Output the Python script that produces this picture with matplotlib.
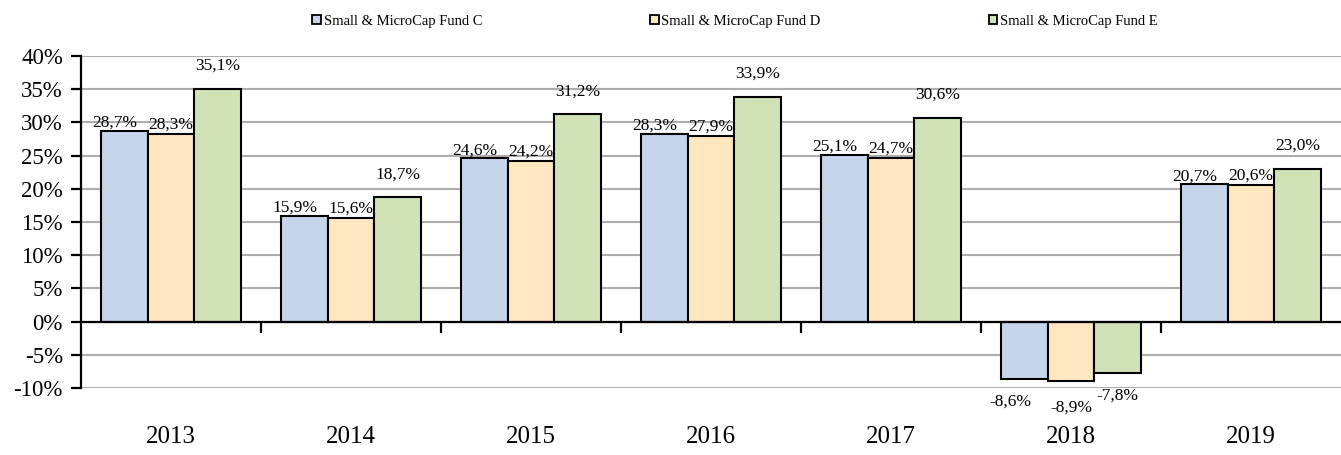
import matplotlib
matplotlib.use("Agg")
import matplotlib.pyplot as plt
from matplotlib.patches import Patch
import matplotlib.transforms as mtransforms

years = ["2013", "2014", "2015", "2016", "2017", "2018", "2019"]
series_names = ["Small & MicroCap Fund C", "Small & MicroCap Fund D", "Small & MicroCap Fund E"]
fund_c = [28.7, 15.9, 24.6, 28.3, 25.1, -8.6, 20.7]
fund_d = [28.3, 15.6, 24.2, 27.9, 24.7, -8.9, 20.6]
fund_e = [35.1, 18.7, 31.2, 33.9, 30.6, -7.8, 23.0]
yticks = [-10, -5, 0, 5, 10, 15, 20, 25, 30, 35, 40]

colors = ["#C6D5EB", "#FFE8C0", "#D1E3B6"]
# label offsets in points (dx, dy) per series, for positive / negative values
pos_off = [(-7, 0), (0, 1), (0, 11)]
neg_off = [(-10, -11), (0, -14), (0, -10)]

plt.rcParams["font.family"] = ["Liberation Serif", "DejaVu Serif"]

fig = plt.figure(figsize=(13.41, 4.55), dpi=100)
ax = fig.add_axes([81/1341, 1-388/455, 1-81/1341, (388-56)/455])

width = 0.26
xs = list(range(len(years)))
for k, vals in enumerate([fund_c, fund_d, fund_e]):
    off = (k - 1) * width
    bars = ax.bar([x + off for x in xs], vals, width=width, color=colors[k],
                  edgecolor="black", linewidth=1.5, zorder=3, label=series_names[k])
    for b, v in zip(bars, vals):
        lbl = f"{v:.1f}%".replace(".", ",")
        cx = b.get_x() + b.get_width() / 2
        if v >= 0:
            dx, dy = pos_off[k]
            ax.annotate(lbl, (cx, v), xytext=(dx, dy), textcoords="offset points",
                        ha="center", va="bottom", fontsize=12.5, zorder=4)
        else:
            dx, dy = neg_off[k]
            ax.annotate(lbl, (cx, v), xytext=(dx, dy), textcoords="offset points",
                        ha="center", va="top", fontsize=12.5, zorder=4)

ax.set_xlim(-0.5, len(years) - 0.5)
ax.set_ylim(-10, 40)
ax.set_yticks(yticks)
ax.set_yticklabels([f"{t}%" for t in yticks], fontsize=16.5)
ax.yaxis.grid(True, color="#ADADAD", linewidth=1.5, zorder=0)
ax.set_axisbelow(True)

for s in ["top", "right"]:
    ax.spines[s].set_visible(False)
ax.spines["bottom"].set_position(("data", 0))
ax.spines["bottom"].set_linewidth(1.6)
ax.spines["bottom"].set_zorder(5)
ax.spines["left"].set_linewidth(1.6)
ax.tick_params(axis="y", direction="out", length=7, width=1.6, pad=6)
ax.set_xticks([i + 0.5 for i in range(len(years) - 1)])
ax.set_xticklabels([])
ax.tick_params(axis="x", direction="out", length=8, width=1.6)

trans = mtransforms.blended_transform_factory(ax.transData, fig.transFigure)
for i, y in enumerate(years):
    ax.text(i, 1 - 437/455, y, transform=trans, ha="center", va="center", fontsize=18)

handles = [Patch(facecolor=colors[k], edgecolor="black", linewidth=1.3) for k in range(3)]
leg = fig.legend(handles, series_names, loc="center", bbox_to_anchor=(0.548, 1 - 21/455),
                 ncol=3, frameon=False, fontsize=10.5, handlelength=0.6, handleheight=0.6,
                 handletextpad=0.2, columnspacing=11.5)

fig.savefig("out.png", dpi=100)
